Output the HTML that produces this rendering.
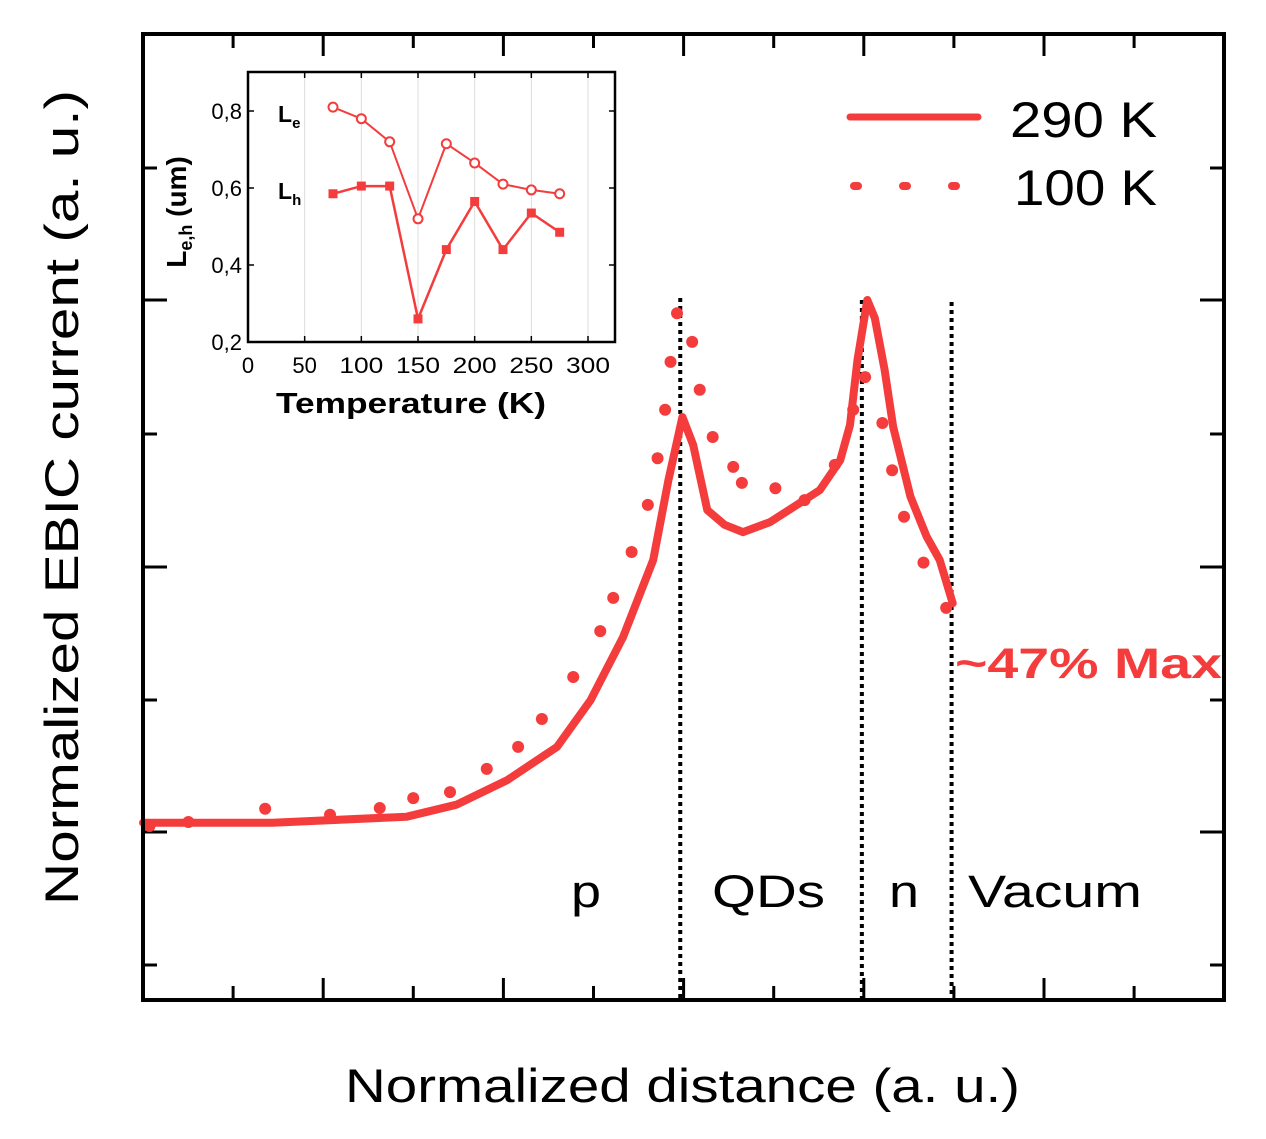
<!DOCTYPE html>
<html><head><meta charset="utf-8"><style>
html,body{margin:0;padding:0;background:#fff;}
svg{display:block;font-family:"Liberation Sans",sans-serif;}
</style></head><body>
<svg id="chart" width="1266" height="1139" viewBox="0 0 1266 1139" xmlns="http://www.w3.org/2000/svg">
<rect width="1266" height="1139" fill="#fff"/>
<g id="main-ticks"></g>
<g id="dividers"></g>
<g id="series"></g>
<rect x="143" y="34" width="1081" height="966" fill="none" stroke="#000" stroke-width="4"/>
<text x="345" y="1102" font-size="47" textLength="675" lengthAdjust="spacingAndGlyphs">Normalized distance (a. u.)</text>
<text transform="translate(78,905) rotate(-90)" font-size="47" textLength="815" lengthAdjust="spacingAndGlyphs">Normalized EBIC current (a. u.)</text>
<text x="571" y="907" font-size="45" textLength="30" lengthAdjust="spacingAndGlyphs">p</text>
<text x="712" y="907" font-size="45" textLength="113" lengthAdjust="spacingAndGlyphs">QDs</text>
<text x="889" y="907" font-size="45" textLength="30" lengthAdjust="spacingAndGlyphs">n</text>
<text x="968" y="907" font-size="45" textLength="174" lengthAdjust="spacingAndGlyphs">Vacum</text>
<text x="955" y="678" font-size="43" font-weight="bold" fill="#f43c3c" textLength="267" lengthAdjust="spacingAndGlyphs">~47% Max</text>
<g>
<line x1="850" y1="117" x2="978" y2="117" stroke="#f43c3c" stroke-width="7" stroke-linecap="round"/>
<text x="1010" y="137" font-size="50" textLength="147" lengthAdjust="spacingAndGlyphs">290 K</text>
<line x1="854" y1="186" x2="956" y2="186" stroke="#f43c3c" stroke-width="8" stroke-linecap="round" stroke-dasharray="4 45"/>
<text x="1014" y="205" font-size="50" textLength="143" lengthAdjust="spacingAndGlyphs">100 K</text>
</g>
<g id="inset"></g>
</svg>
<script>
// main chart data
const dist290 = [0,.120,.244,.290,.337,.383,.414,.444,.472,.486,.499,.509,.522,.538,.555,.580,.608,.626,.645,.654,.661,.670,.677,.686,.694,.710,.725,.737,.749];
const ebic290 = [.214,.214,.223,.241,.278,.328,.398,.493,.609,.729,.824,.782,.684,.662,.651,.666,.695,.714,.759,.812,.910,1.0,.973,.895,.809,.704,.644,.609,.544];
const dist100 = [.006,.042,.113,.173,.219,.250,.284,.318,.347,.369,.398,.423,.435,.452,.467,.476,.483,.488,.494,.508,.515,.527,.546,.554,.585,.612,.640,.657,.668,.684,.693,.704,.722,.743];
const ebic100 = [.209,.215,.235,.226,.236,.251,.260,.295,.328,.370,.433,.502,.552,.621,.692,.762,.835,.907,.980,.937,.865,.794,.749,.725,.717,.699,.752,.835,.884,.815,.744,.674,.605,.537];
const dividerPos = [.497,.665,.748];
// inset data
const tempK = [75,100,125,150,175,200,225,250,275];
const lenE = [.81,.78,.72,.52,.715,.665,.61,.595,.585];
const lenH = [.585,.605,.605,.26,.44,.565,.44,.535,.485];
const insetXTicks = [0,50,100,150,200,250,300];
const insetYTicks = ["0,2","0,4","0,6","0,8"];
const insetYVals = [.2,.4,.6,.8];

const NS="http://www.w3.org/2000/svg";
function mk(tag,attrs,parent){const e=document.createElementNS(NS,tag);for(const k in attrs)e.setAttribute(k,attrs[k]);parent.appendChild(e);return e;}
const X=d=>143+d*1081, Y=v=>965-v*665;
const RED="#f43c3c";

// main ticks
const tk=document.getElementById('main-ticks');
for(let k=1;k<12;k++){const x=143+k*90.1;const len=(k%2==0)?22:14;
 let t=mk('line',{x1:x,y1:1000,x2:x,y2:1000-len,stroke:'#000','stroke-width':3},tk);
 
 
 t=mk('line',{x1:x,y1:34,x2:x,y2:34+len,stroke:'#000','stroke-width':3},tk);
 
 }
const yt=[168,300,434,567,700,832,965];
yt.forEach((y,i)=>{const len=(i%2==1)?24:14;
 let t=mk('line',{x1:143,y1:y,x2:143+len,y2:y,stroke:'#000','stroke-width':3},tk);
 
 
 t=mk('line',{x1:1224,y1:y,x2:1224-len,y2:y,stroke:'#000','stroke-width':3},tk);
 
 });

// dividers
const dv=document.getElementById('dividers');
dividerPos.forEach((d,i)=>{const l=mk('line',{x1:X(d),y1:i==1?300:(i==0?298:302),x2:X(d),y2:998,stroke:'#000','stroke-width':4,'stroke-dasharray':'4 4'},dv);
 
 });

// series
const sg=document.getElementById('series');
let dstr=dist290.map((d,i)=>(i?'L':'M')+X(d).toFixed(1)+' '+Y(ebic290[i]).toFixed(1)).join(' ');
const p290=mk('path',{d:dstr,fill:'none',stroke:RED,'stroke-width':8,'stroke-linejoin':'round','stroke-linecap':'round'},sg);


dist100.forEach((d,i)=>{const e=mk('ellipse',{cx:X(d),cy:Y(ebic100[i]),rx:6,ry:6,fill:RED},sg);
 
 });

// inset
const ig=document.getElementById('inset');
const IX=t=>248+t*(340/300), IY=v=>342-(v-0.2)*385;
const ibg=mk('rect',{x:248,y:72,width:367,height:270,fill:'#fff'},ig);


insetXTicks.forEach(t=>{ if(t>0){const g=mk('line',{x1:IX(t),y1:72,x2:IX(t),y2:342,stroke:'#ddd','stroke-width':1},ig);
 
 }
 const tl=mk('text',{x:IX(t),y:373,'font-size':22,'text-anchor':'middle'},ig);tl.textContent=t;
 if(t>=100){tl.setAttribute('textLength','44');tl.setAttribute('lengthAdjust','spacingAndGlyphs');}
 
 
 for(const [y1,y2] of [[342,336],[72,78]]){const l=mk('line',{x1:IX(t),y1:y1,x2:IX(t),y2:y2,stroke:'#000','stroke-width':1.5},ig);
 
 }});
insetYVals.forEach((v,i)=>{const tl=mk('text',{x:242,y:IY(v)+8,'font-size':22,'text-anchor':'end'},ig);tl.textContent=insetYTicks[i];
 
 
 const l=mk('line',{x1:248,y1:IY(v),x2:254,y2:IY(v),stroke:'#000','stroke-width':1.5},ig);
 
 
 const r=mk('line',{x1:615,y1:IY(v),x2:609,y2:IY(v),stroke:'#000','stroke-width':1.5},ig);
 
 });
const pe=mk('path',{d:tempK.map((t,i)=>(i?'L':'M')+IX(t)+' '+IY(lenE[i])).join(' '),fill:'none',stroke:RED,'stroke-width':2},ig);


const ph=mk('path',{d:tempK.map((t,i)=>(i?'L':'M')+IX(t)+' '+IY(lenH[i])).join(' '),fill:'none',stroke:RED,'stroke-width':2.5},ig);


tempK.forEach((t,i)=>{const c=mk('circle',{cx:IX(t),cy:IY(lenE[i]),r:4.5,fill:'#fff',stroke:RED,'stroke-width':2},ig);
 
 
 const s=mk('rect',{x:IX(t)-4.5,y:IY(lenH[i])-4.5,width:9,height:9,fill:RED},ig);
 
 });
const fr=mk('rect',{x:248,y:72,width:367,height:270,fill:'none',stroke:'#000','stroke-width':2.5},ig);


const xt=mk('text',{x:276,y:413,'font-size':29,'font-weight':'bold',textLength:270,lengthAdjust:'spacingAndGlyphs'},ig);xt.textContent='Temperature (K)';


const ytl=mk('text',{transform:'translate(186,212) rotate(-90)','font-size':28,'font-weight':'bold','text-anchor':'middle'},ig);
ytl.innerHTML='L<tspan font-size="18" dy="6">e,h</tspan><tspan dy="-6"> (um)</tspan>';


const le=mk('text',{x:278,y:122,'font-size':23,'font-weight':'bold'},ig);le.innerHTML='L<tspan font-size="15" dy="6">e</tspan>';


const lh=mk('text',{x:278,y:199,'font-size':23,'font-weight':'bold'},ig);lh.innerHTML='L<tspan font-size="15" dy="6">h</tspan>';


</script>
</body></html>
